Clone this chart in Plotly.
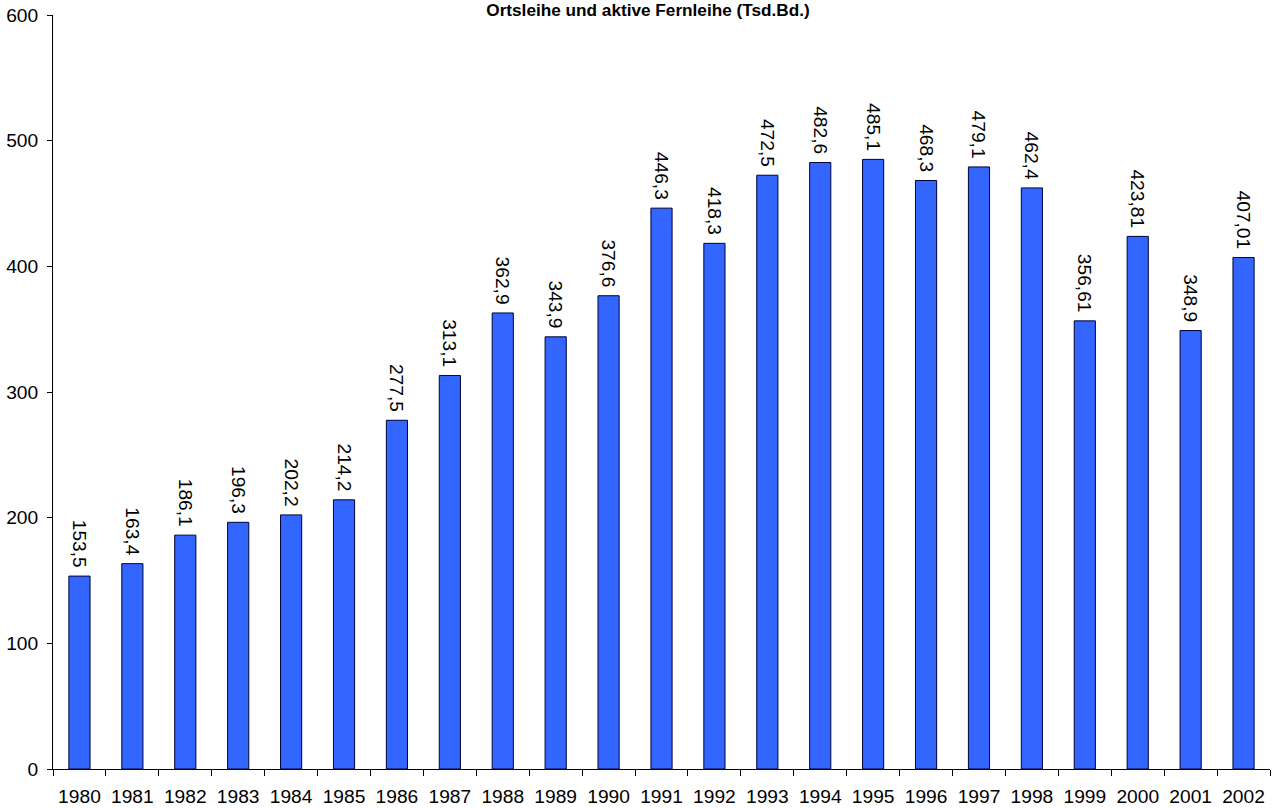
import plotly.graph_objects as go

years = [str(y) for y in range(1980, 2003)]
values = [153.5, 163.4, 186.1, 196.3, 202.2, 214.2, 277.5, 313.1, 362.9, 343.9,
          376.6, 446.3, 418.3, 472.5, 482.6, 485.1, 468.3, 479.1, 462.4, 356.61,
          423.81, 348.9, 407.01]
labels = ["153,5", "163,4", "186,1", "196,3", "202,2", "214,2", "277,5", "313,1",
          "362,9", "343,9", "376,6", "446,3", "418,3", "472,5", "482,6", "485,1",
          "468,3", "479,1", "462,4", "356,61", "423,81", "348,9", "407,01"]
title = "Ortsleihe und aktive Fernleihe (Tsd.Bd.)"

FONT = "Liberation Sans, Arial, sans-serif"
FS = 19.2

fig = go.Figure(go.Bar(
    x=years, y=values, text=[t + "\u00a0" for t in labels],
    textposition="outside", textangle=90, constraintext="none",
    textfont=dict(family=FONT, size=FS, color="#000000"),
    marker=dict(color="#3366FF", line=dict(color="#000033", width=1)),
    cliponaxis=False,
))

fig.update_layout(
    width=1272, height=808,
    margin=dict(l=53, r=2, t=15, b=39, autoexpand=False),
    paper_bgcolor="white", plot_bgcolor="white",
    bargap=0.6,
    showlegend=False,
    font=dict(family=FONT, size=FS, color="#000000"),
    title=dict(text="<b>" + title + "</b>", font=dict(family=FONT, size=17.2, color="#000000"),
               x=(648 - 53) / 1217, xanchor="center", xref="paper",
               y=1 - 10 / 808, yanchor="middle", yref="container"),
)
fig.update_xaxes(
    type="category", showline=True, linecolor="#000000", linewidth=1,
    ticks="outside", tickson="boundaries", ticklen=6, tickcolor="#000000",
    showgrid=False, tickfont=dict(family=FONT, size=FS), ticklabelstandoff=10,
    automargin=False,
)
fig.update_yaxes(
    range=[0, 600], dtick=100, showline=True, linecolor="#000000", linewidth=1,
    ticks="outside", ticklen=5, tickcolor="#000000", showgrid=False, zeroline=False,
    tickfont=dict(family=FONT, size=FS), ticklabelstandoff=5, automargin=False,
)

fig.write_html("out.html")
